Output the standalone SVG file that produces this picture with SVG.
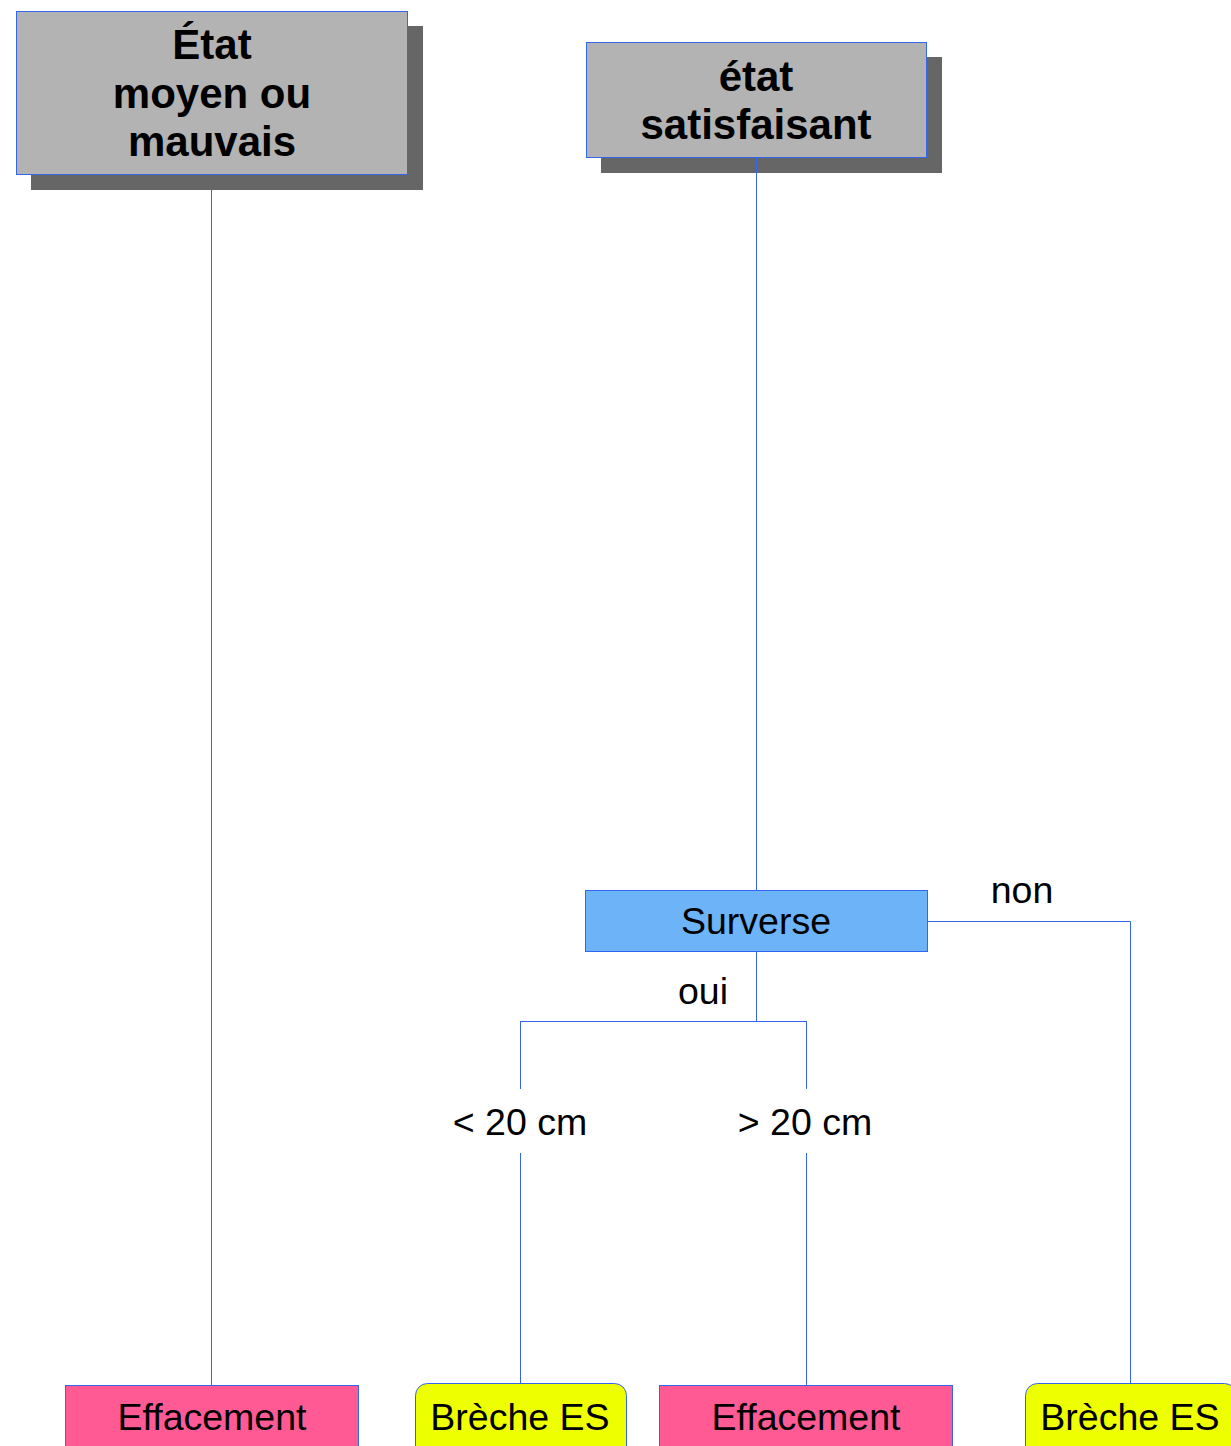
<svg xmlns="http://www.w3.org/2000/svg" width="1231" height="1446" viewBox="0 0 1231 1446">
<style>
.shadow{fill:#666666}
.grey{fill:#b3b3b3;stroke:#3366ee;stroke-width:1}
.pink{fill:#ff5a94;stroke:#3366ee;stroke-width:1}
.yellow{fill:#eeff00;stroke:#3366ee;stroke-width:1}
.blue{fill:#6cb3f7;stroke:#3366ee;stroke-width:1}
.edge{fill:none;stroke:#3366ee;stroke-width:1}
.big{font-family:"Liberation Sans",Arial,sans-serif;font-weight:bold;font-size:42px;fill:#000;text-anchor:middle}
.t{font-family:"Liberation Sans",Arial,sans-serif;font-size:37.5px;fill:#000;text-anchor:middle}
</style>
<rect width="1231" height="1446" fill="#fff"/>
<g id="n-moyen">
<rect class="shadow" x="31" y="26" width="392" height="164"/>
<rect class="grey" x="16.5" y="11.5" width="391" height="163"/>
<text class="big" x="212" y="59">État</text>
<text class="big" x="212" y="108">moyen ou</text>
<text class="big" x="212" y="156">mauvais</text>
</g>
<g id="n-satisfaisant">
<rect class="shadow" x="601" y="57" width="341" height="116"/>
<rect class="grey" x="586.5" y="42.5" width="340" height="115"/>
<text class="big" x="756" y="91">état</text>
<text class="big" x="756" y="139">satisfaisant</text>
</g>
<g id="n-surverse">
<rect class="blue" x="585.5" y="890.5" width="342" height="61"/>
<text class="t" x="756" y="934">Surverse</text>
</g>
<g id="l-non"><text class="t" x="1022" y="903">non</text></g>
<g id="l-oui"><text class="t" x="703" y="1004">oui</text></g>
<g id="l-lt"><text class="t" x="520" y="1135">&lt; 20 cm</text></g>
<g id="l-gt"><text class="t" x="805" y="1135">&gt; 20 cm</text></g>
<g id="n-eff1">
<rect class="pink" x="65.5" y="1385.5" width="293" height="70"/>
<text class="t" x="212" y="1430">Effacement</text>
</g>
<g id="n-breche1">
<rect class="yellow" x="415.5" y="1383.5" width="211" height="80" rx="12"/>
<text class="t" x="520" y="1430">Brèche ES</text>
</g>
<g id="n-eff2">
<rect class="pink" x="659.5" y="1385.5" width="293" height="70"/>
<text class="t" x="806" y="1430">Effacement</text>
</g>
<g id="n-breche2">
<rect class="yellow" x="1025.5" y="1383.5" width="211" height="80" rx="12"/>
<text class="t" x="1130" y="1430">Brèche ES</text>
</g>
<g id="connectors">
<path class="edge" d="M211.5 175 V1385"/>
<path class="edge" d="M756.5 157 V890"/>
<path class="edge" d="M927 921.5 H1130.5 V1383"/>
<path class="edge" d="M756.5 951 V1021.5 M520.5 1021.5 H806.5 M520.5 1021 V1089 M806.5 1021 V1089 M520.5 1153 V1383 M806.5 1153 V1385"/>
</g>
</svg>
